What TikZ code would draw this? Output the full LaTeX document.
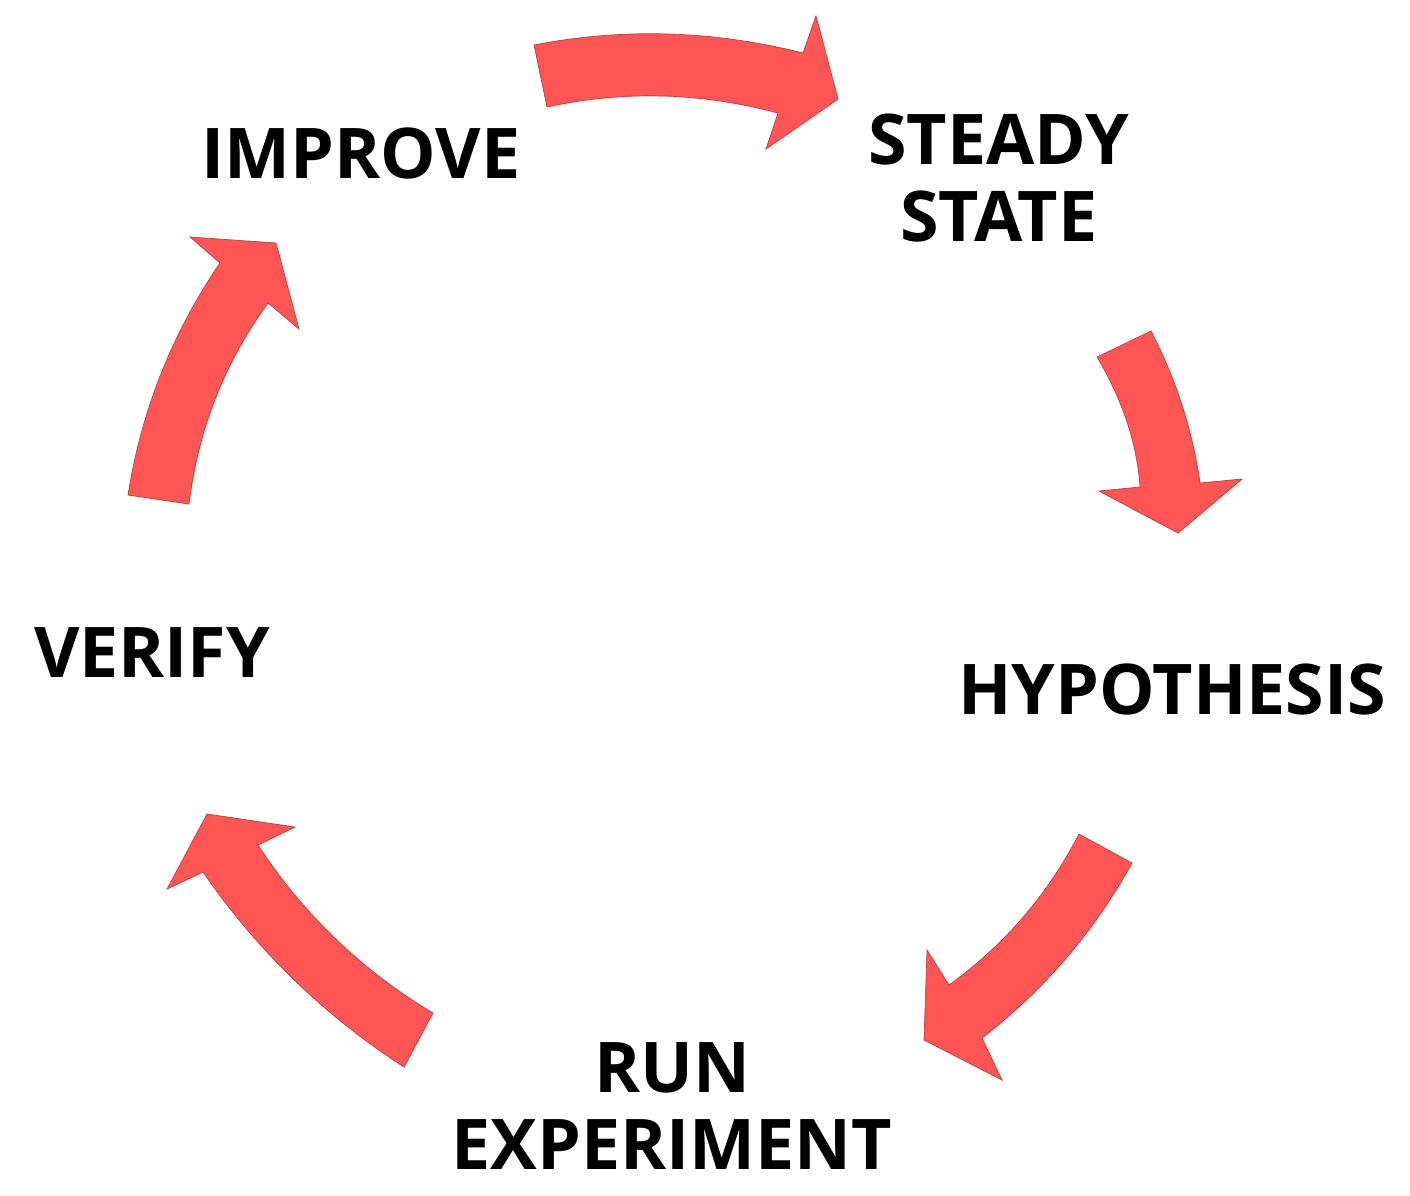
\documentclass[tikz,border=0pt]{standalone}
\usepackage{fontspec}
\setmainfont{Open Sans}
\usetikzlibrary{shadows}
\definecolor{arrowred}{HTML}{FF5555}
\definecolor{arrowedge}{HTML}{B84444}
\tikzset{
  cyclearrow/.style={fill=arrowred, draw=arrowedge, line width=0.4pt, line join=miter,
    drop shadow={opacity=0.18, shadow xshift=0.6pt, shadow yshift=-0.8pt}},
  label/.style={inner sep=0pt, align=center, text=black,
    font=\fontsize{39.8}{43.8}\selectfont\bfseries}
}
\begin{document}
\begin{tikzpicture}[x=0.02cm, y=-0.02cm]
\useasboundingbox (0,0) rectangle (1410,1196);
% top arrow (IMPROVE -> STEADY STATE)
\path[cyclearrow] (534,45) .. controls (623,27.7) and (712.7,30.3) .. (803,53)
  -- (816,16) -- (838,99) -- (766,149) -- (778,113)
  .. controls (700.3,92.3) and (623.3,90.3) .. (547,107) -- cycle;
% right arrow (STEADY STATE -> HYPOTHESIS)
\path[cyclearrow] (1151,331) .. controls (1176,379) and (1192.3,429.7) .. (1200,483)
  -- (1242,479) -- (1178,533) -- (1099,491) -- (1140,487)
  .. controls (1137,443.7) and (1122.7,400.3) .. (1097,357) -- cycle;
% lower right arrow (HYPOTHESIS -> RUN EXPERIMENT)
\path[cyclearrow] (1132,863) .. controls (1094,931.7) and (1044,990) .. (982,1038)
  -- (1002,1080) -- (924,1040) -- (927,950) -- (949,985)
  .. controls (1004.3,945) and (1047.7,894.7) .. (1079,834) -- cycle;
% lower left arrow (RUN EXPERIMENT -> VERIFY)
\path[cyclearrow] (404,1067) .. controls (324,1015.4) and (257,950.4) .. (203,872)
  -- (167,889) -- (207,814) -- (295,827) -- (258,845)
  .. controls (303.3,914.3) and (361.7,970.3) .. (433,1013) -- cycle;
% left arrow (VERIFY -> IMPROVE)
\path[cyclearrow] (128,495) .. controls (141.3,410.7) and (172,333.4) .. (220,263)
  -- (190,237) -- (276,243) -- (299,329) -- (268,303)
  .. controls (224.3,363) and (198,430) .. (189,504) -- cycle;
% labels
\node[label] (improve) at (361,153) {IMPROVE};
\node[label] (steady) at (999,178.5) {STEADY\\STATE};
\node[label] (hypo) at (1172,689) {HYPOTHESIS};
\node[label] (run) at (672,1106.5) {RUN\\EXPERIMENT};
\node[label] (verify) at (152,653) {VERIFY};
\end{tikzpicture}
\end{document}
